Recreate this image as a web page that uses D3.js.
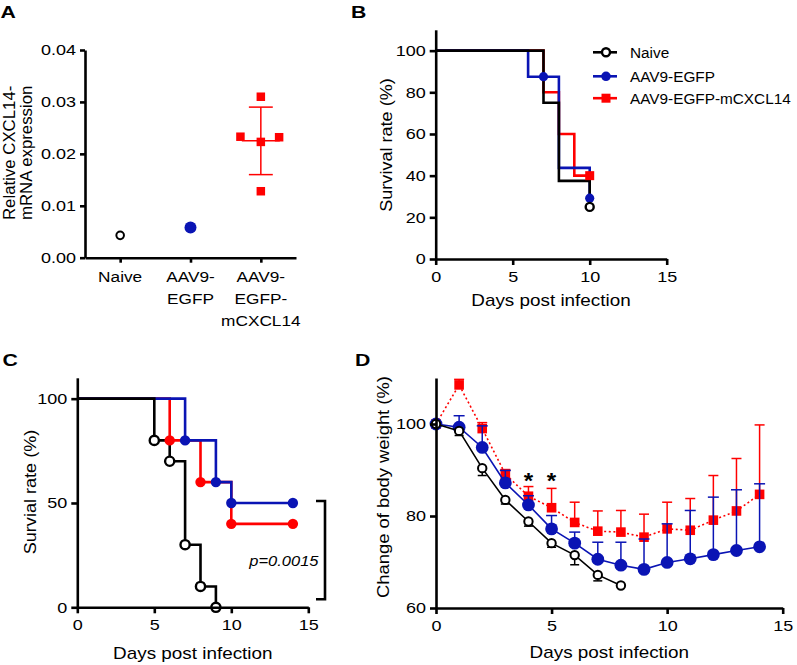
<!DOCTYPE html>
<html><head><meta charset="utf-8">
<script src="https://cdn.jsdelivr.net/npm/d3@7"></script>
<style>
html,body{margin:0;padding:0;background:#fff;}
svg{display:block;font-family:"Liberation Sans",Arial,Helvetica,sans-serif;}
</style></head>
<body>
<script>
// ---------- DATA ----------
// Panel A
const groupsA = ["Naive", "AAV9-EGFP", "AAV9-EGFP-mCXCL14"];
const groupLabelsA = [["Naive"], ["AAV9-", "EGFP"], ["AAV9-", "EGFP-", "mCXCL14"]];
const naiveValuesA = [0.0043];
const egfpValuesA = [0.0058];
const cxclValuesA = [0.0310, 0.0233, 0.0223, 0.0232, 0.0128];
const cxclJitterA = [0, -0.29, 0, 0.26, 0];
const cxclMeanA = 0.0225;
const cxclSdA = 0.0065;
const yTicksA = [0, 0.01, 0.02, 0.03, 0.04];

// Panel B (Kaplan-Meier)
const legendB = ["Naive", "AAV9-EGFP", "AAV9-EGFP-mCXCL14"];
const kmBDaysNaive = [0, 7, 8, 10];
const kmBSurvNaive = [100, 75, 37.5, 25];
const kmBDaysEgfp = [0, 6, 8, 10];
const kmBSurvEgfp = [100, 87.5, 43.75, 29.17];
const kmBDaysCxcl = [0, 7, 8, 9, 10];
const kmBSurvCxcl = [100, 80, 60, 40, 40];
const censorBNaive = [[10, 25]];
const censorBEgfp = [[7, 87.5], [10, 29.17]];
const censorBCxcl = [[10, 40]];
const yTicksB = [0, 20, 40, 60, 80, 100];
const xTicksDays = [0, 5, 10, 15];

// Panel C
const kmCDaysNaive = [0, 5, 6, 7, 8, 9];
const kmCSurvNaive = [100, 80, 70, 30, 10, 0];
const kmCDaysEgfp = [0, 7, 9, 10, 14];
const kmCSurvEgfp = [100, 80, 60, 50, 50];
const kmCDaysCxcl = [0, 6, 8, 10, 14];
const kmCSurvCxcl = [100, 80, 60, 40, 40];
const yTicksC = [0, 50, 100];
const pValueC = "p=0.0015";

// Panel D
const daysD = [0,1,2,3,4,5,6,7,8,9,10,11,12,13,14];
const naiveMeanD = [100, 98.5, 90.4, 83.5, 78.8, 74.1, 71.5, 67.2, 64.9];
const naiveSdD   = [0, 1.0, 1.6, 0.9, 1.0, 0.9, 2.1, 1.3, 0];
const egfpMeanD  = [100, 99.3, 94.9, 87.2, 82.4, 77.2, 74.1, 70.6, 69.3, 68.4, 69.9, 70.7, 71.6, 72.5, 73.3];
const egfpSdD    = [0, 2.5, 4.7, 2.7, 2.0, 2.9, 2.4, 3.7, 5.0, 6.6, 8.4, 10.5, 12.5, 13.2, 13.7];
const cxclMeanD  = [100, 108.5, 99.0, 89.1, 84.3, 81.8, 78.6, 76.7, 76.5, 75.4, 77.2, 76.9, 79.1, 81.1, 84.7];
const cxclSdD    = [0, 1.2, 1.3, 1.0, 2.1, 4.2, 4.4, 4.4, 4.7, 5.0, 5.8, 6.9, 9.7, 11.4, 15.1];
const starDaysD = [4, 5];
const yTicksD = [60, 80, 100];

// ---------- STYLE ----------
const BLACK = "#000", BLUE = "#0a14b4", RED = "#ff0000";
const W = 797, H = 665;
const svg = d3.select("body").append("svg").attr("width", W).attr("height", H);

function txt(g, x, y, s, o = {}) {
  const t = g.append("text")
    .attr("transform", `translate(${x},${y})${o.rot ? ` rotate(${o.rot})` : ""} scale(${o.sx || 1},1)`)
    .attr("text-anchor", o.anchor || "start")
    .style("font-size", (o.size || 15) + "px")
    .attr("fill", o.fill || "#000")
    .text(s);
  if (o.weight) t.style("font-weight", o.weight);
  if (o.italic) t.style("font-style", "italic");
  return t;
}

const TICK_SX = 1.2, TICK_FS = 15;
function styleAxis(g, side, tickLen, pad) {
  g.select(".domain").attr("stroke", "#000").attr("stroke-width", 2.6);
  g.selectAll(".tick line").attr("stroke", "#000").attr("stroke-width", 2.6);
  g.selectAll(".tick text")
    .style("font-size", TICK_FS + "px")
    .style("font-family", "'Liberation Sans',Arial,Helvetica,sans-serif")
    .attr("fill", "#000")
    .attr("transform", `scale(${TICK_SX},1)`);
  if (side === "left") g.selectAll(".tick text").attr("x", -(tickLen + pad) / TICK_SX);
}

// Panel labels
txt(svg, 0.5, 18, "A", {size: 17, weight: "bold", sx: 1.25});
txt(svg, 351, 18, "B", {size: 17, weight: "bold", sx: 1.25});
txt(svg, 2.5, 366, "C", {size: 17, weight: "bold", sx: 1.25});
txt(svg, 355, 366, "D", {size: 17, weight: "bold", sx: 1.25});

// ---------- PANEL A ----------
{
  const g = svg.append("g");
  const x = d3.scaleLinear().domain([-0.5, 2.5]).range([85, 296]);
  const y = d3.scaleLinear().domain([0, 0.04]).range([257.7, 50]);
  const ay = g.append("g").attr("transform", `translate(${x(-0.5)},0)`)
    .call(d3.axisLeft(y).tickValues(yTicksA).tickFormat(d3.format(".2f")).tickSize(5).tickSizeOuter(0));
  styleAxis(ay, "left", 5, 4);
  const ax = g.append("g").attr("transform", `translate(0,${y(0)})`)
    .call(d3.axisBottom(x).tickValues([0, 1, 2]).tickFormat("").tickSize(5).tickSizeOuter(0));
  styleAxis(ax, "bottom");
  groupLabelsA.forEach((lines, i) => {
    lines.forEach((l, j) => txt(g, x(i), 281.7 + j * 22, l, {anchor: "middle", size: 15, sx: 1.15}));
  });
  txt(g, 14.5, 220, "Relative CXCL14-", {rot: -90, size: 16, sx: 1.05});
  txt(g, 31.5, 220, "mRNA expression", {rot: -90, size: 16, sx: 1.05});

  g.selectAll(".nA").data(naiveValuesA).enter().append("circle")
    .attr("cx", x(0)).attr("cy", d => y(d)).attr("r", 3.8)
    .attr("fill", "#fff").attr("stroke", BLACK).attr("stroke-width", 2);
  g.selectAll(".eA").data(egfpValuesA).enter().append("circle")
    .attr("cx", x(1)).attr("cy", d => y(d)).attr("r", 6)
    .attr("fill", BLUE);
  const mx = x(2), hw = x(0.27) - x(0), cw = x(0.17) - x(0);
  g.append("line").attr("x1", mx).attr("x2", mx).attr("y1", y(cxclMeanA - cxclSdA)).attr("y2", y(cxclMeanA + cxclSdA))
    .attr("stroke", RED).attr("stroke-width", 1.5);
  [cxclMeanA - cxclSdA, cxclMeanA + cxclSdA].forEach(v =>
    g.append("line").attr("x1", mx - cw).attr("x2", mx + cw).attr("y1", y(v)).attr("y2", y(v))
      .attr("stroke", RED).attr("stroke-width", 1.5));
  g.append("line").attr("x1", mx - hw).attr("x2", mx + hw).attr("y1", y(cxclMeanA)).attr("y2", y(cxclMeanA))
    .attr("stroke", RED).attr("stroke-width", 1.5);
  const s = 8.5;
  g.selectAll(".cA").data(cxclValuesA).enter().append("rect")
    .attr("x", (d, i) => x(2 + cxclJitterA[i]) - s / 2).attr("y", d => y(d) - s / 2)
    .attr("width", s).attr("height", s).attr("fill", RED);
}

// ---------- PANEL B ----------
{
  const g = svg.append("g");
  const x = d3.scaleLinear().domain([0, 15]).range([435.7, 666.7]);
  const y = d3.scaleLinear().domain([0, 110]).range([259, 29.8]);
  const line = d3.line().x(d => x(d[0])).y(d => y(d[1])).curve(d3.curveStepAfter);
  const series = [
    {days: kmBDaysCxcl, surv: kmBSurvCxcl, c: RED},
    {days: kmBDaysEgfp, surv: kmBSurvEgfp, c: BLUE},
    {days: kmBDaysNaive, surv: kmBSurvNaive, c: BLACK}
  ];
  series.forEach(sr => {
    g.append("path").datum(sr.days.map((d, i) => [d, sr.surv[i]]))
      .attr("d", line).attr("fill", "none").attr("stroke", sr.c).attr("stroke-width", 2.6);
  });
  censorBCxcl.forEach(p => g.append("rect").attr("x", x(p[0]) - 4.5).attr("y", y(p[1]) - 4.5)
    .attr("width", 9).attr("height", 9).attr("fill", RED));
  censorBEgfp.forEach(p => g.append("circle").attr("cx", x(p[0])).attr("cy", y(p[1])).attr("r", 4.6).attr("fill", BLUE));
  censorBNaive.forEach(p => g.append("circle").attr("cx", x(p[0])).attr("cy", y(p[1])).attr("r", 4)
    .attr("fill", "#fff").attr("stroke", BLACK).attr("stroke-width", 2.4));

  const ay = g.append("g").attr("transform", `translate(${x(0)},0)`)
    .call(d3.axisLeft(y).tickValues(yTicksB).tickSize(6).tickSizeOuter(0));
  styleAxis(ay, "left", 6, 4);
  const ax = g.append("g").attr("transform", `translate(0,${y(0)})`)
    .call(d3.axisBottom(x).tickValues(xTicksDays).tickSize(6).tickPadding(6).tickSizeOuter(0));
  styleAxis(ax, "bottom");
  txt(g, 392, 145, "Survival rate (%)", {rot: -90, anchor: "middle", size: 16, sx: 1.13});
  txt(g, 551, 306, "Days post infection", {anchor: "middle", size: 16, sx: 1.18});

  const ly = [52.3, 76.3, 98.2];
  const cols = [BLACK, BLUE, RED];
  legendB.forEach((name, i) => {
    g.append("line").attr("x1", 593).attr("x2", 617).attr("y1", ly[i]).attr("y2", ly[i])
      .attr("stroke", cols[i]).attr("stroke-width", 2.6);
    if (i === 0) g.append("circle").attr("cx", 606).attr("cy", ly[i]).attr("r", 4)
      .attr("fill", "#fff").attr("stroke", BLACK).attr("stroke-width", 2.4);
    if (i === 1) g.append("circle").attr("cx", 606).attr("cy", ly[i]).attr("r", 4.8).attr("fill", BLUE);
    if (i === 2) g.append("rect").attr("x", 601.5).attr("y", ly[i] - 4.5).attr("width", 9).attr("height", 9).attr("fill", RED);
    txt(g, 630, ly[i] + 5.6, name, {size: 15.5, sx: 0.99});
  });
}

// ---------- PANEL C ----------
{
  const g = svg.append("g");
  const x = d3.scaleLinear().domain([0, 15]).range([77.3, 308.3]);
  const y = d3.scaleLinear().domain([0, 110]).range([607.3, 377.8]);
  const line = d3.line().x(d => x(d[0])).y(d => y(d[1])).curve(d3.curveStepAfter);
  const series = [
    {days: kmCDaysCxcl, surv: kmCSurvCxcl, c: RED, open: false},
    {days: kmCDaysEgfp, surv: kmCSurvEgfp, c: BLUE, open: false},
    {days: kmCDaysNaive, surv: kmCSurvNaive, c: BLACK, open: true}
  ];
  series.forEach(sr => {
    const pts = sr.days.map((d, i) => [d, sr.surv[i]]);
    g.append("path").datum(pts).attr("d", line).attr("fill", "none").attr("stroke", sr.c).attr("stroke-width", 2.6);
  });
  series.forEach(sr => {
    const pts = sr.days.map((d, i) => [d, sr.surv[i]]).slice(1);
    g.selectAll(null).data(pts).enter().append("circle")
      .attr("cx", d => x(d[0])).attr("cy", d => y(d[1]))
      .attr("r", sr.open ? 4.6 : 5.2)
      .attr("fill", sr.open ? "#fff" : sr.c)
      .attr("stroke", sr.open ? BLACK : "none").attr("stroke-width", 2.4);
  });
  const ay = g.append("g").attr("transform", `translate(${x(0)},0)`)
    .call(d3.axisLeft(y).tickValues(yTicksC).tickSize(6).tickSizeOuter(0));
  styleAxis(ay, "left", 6, 4);
  const ax = g.append("g").attr("transform", `translate(0,${y(0)})`)
    .call(d3.axisBottom(x).tickValues(xTicksDays).tickSize(6).tickPadding(6).tickSizeOuter(0));
  styleAxis(ax, "bottom");
  txt(g, 35.6, 492, "Survial rate (%)", {rot: -90, anchor: "middle", size: 16, sx: 1.13});
  txt(g, 192.8, 659, "Days post infection", {anchor: "middle", size: 16, sx: 1.18});
  g.append("path").attr("d", `M316,501H325V599.3H316`).attr("fill", "none").attr("stroke", "#000").attr("stroke-width", 2.6);
  txt(g, 318.5, 566, pValueC, {anchor: "end", size: 15, sx: 1.1, italic: true});
}

// ---------- PANEL D ----------
{
  const g = svg.append("g");
  const x = d3.scaleLinear().domain([0, 15]).range([436, 782.7]);
  const y = d3.scaleLinear().domain([60, 110]).range([608, 378]);
  const line = d3.line().x(d => x(d[0])).y(d => y(d[1]));
  const mk = (means, sds) => means.map((m, i) => ({d: daysD[i], m, s: sds[i]}));

  const red = mk(cxclMeanD, cxclSdD);
  g.append("path").datum(red.map(p => [p.d, p.m])).attr("d", line).attr("fill", "none")
    .attr("stroke", RED).attr("stroke-width", 1.6).attr("stroke-dasharray", "2,2.6");
  red.filter(p => p.s > 0).forEach(p => {
    g.append("line").attr("x1", x(p.d)).attr("x2", x(p.d)).attr("y1", y(p.m)).attr("y2", y(p.m + p.s)).attr("stroke", RED).attr("stroke-width", 1.5);
    g.append("line").attr("x1", x(p.d) - 5).attr("x2", x(p.d) + 5).attr("y1", y(p.m + p.s)).attr("y2", y(p.m + p.s)).attr("stroke", RED).attr("stroke-width", 1.5);
  });
  g.selectAll(null).data(red).enter().append("rect")
    .attr("x", p => x(p.d) - 4.8).attr("y", p => y(p.m) - 4.8).attr("width", 9.6).attr("height", 9.6).attr("fill", RED);

  const blue = mk(egfpMeanD, egfpSdD);
  g.append("path").datum(blue.map(p => [p.d, p.m])).attr("d", line).attr("fill", "none")
    .attr("stroke", BLUE).attr("stroke-width", 1.6);
  blue.filter(p => p.s > 0).forEach(p => {
    g.append("line").attr("x1", x(p.d)).attr("x2", x(p.d)).attr("y1", y(p.m)).attr("y2", y(p.m + p.s)).attr("stroke", BLUE).attr("stroke-width", 1.5);
    g.append("line").attr("x1", x(p.d) - 5.5).attr("x2", x(p.d) + 5.5).attr("y1", y(p.m + p.s)).attr("y2", y(p.m + p.s)).attr("stroke", BLUE).attr("stroke-width", 1.5);
  });
  g.selectAll(null).data(blue).enter().append("circle")
    .attr("cx", p => x(p.d)).attr("cy", p => y(p.m)).attr("r", 6.4).attr("fill", BLUE);

  const blk = mk(naiveMeanD, naiveSdD);
  g.append("path").datum(blk.map(p => [p.d, p.m])).attr("d", line).attr("fill", "none")
    .attr("stroke", BLACK).attr("stroke-width", 1.6);
  blk.filter(p => p.s > 0).forEach(p => {
    g.append("line").attr("x1", x(p.d)).attr("x2", x(p.d)).attr("y1", y(p.m)).attr("y2", y(p.m - p.s)).attr("stroke", BLACK).attr("stroke-width", 1.5);
    g.append("line").attr("x1", x(p.d) - 4.5).attr("x2", x(p.d) + 4.5).attr("y1", y(p.m - p.s)).attr("y2", y(p.m - p.s)).attr("stroke", BLACK).attr("stroke-width", 1.5);
  });
  g.selectAll(null).data(blk).enter().append("circle")
    .attr("cx", p => x(p.d)).attr("cy", p => y(p.m)).attr("r", 4.2)
    .attr("fill", "#fff").attr("stroke", BLACK).attr("stroke-width", 2);

  starDaysD.forEach(d => txt(g, x(d), 488, "*", {anchor: "middle", size: 22, sx: 1.1, weight: "bold"}));

  const ay = g.append("g").attr("transform", `translate(${x(0)},0)`)
    .call(d3.axisLeft(y).tickValues(yTicksD).tickSize(6).tickSizeOuter(0));
  styleAxis(ay, "left", 6, 4);
  const ax = g.append("g").attr("transform", `translate(0,${y(60)})`)
    .call(d3.axisBottom(x).tickValues(xTicksDays).tickSize(6).tickPadding(6).tickSizeOuter(0));
  styleAxis(ax, "bottom");
  txt(g, 389, 487, "Change of body weight (%)", {rot: -90, anchor: "middle", size: 16, sx: 1.15});
  txt(g, 609.3, 657.5, "Days post infection", {anchor: "middle", size: 16, sx: 1.18});
}
</script>
</body></html>
